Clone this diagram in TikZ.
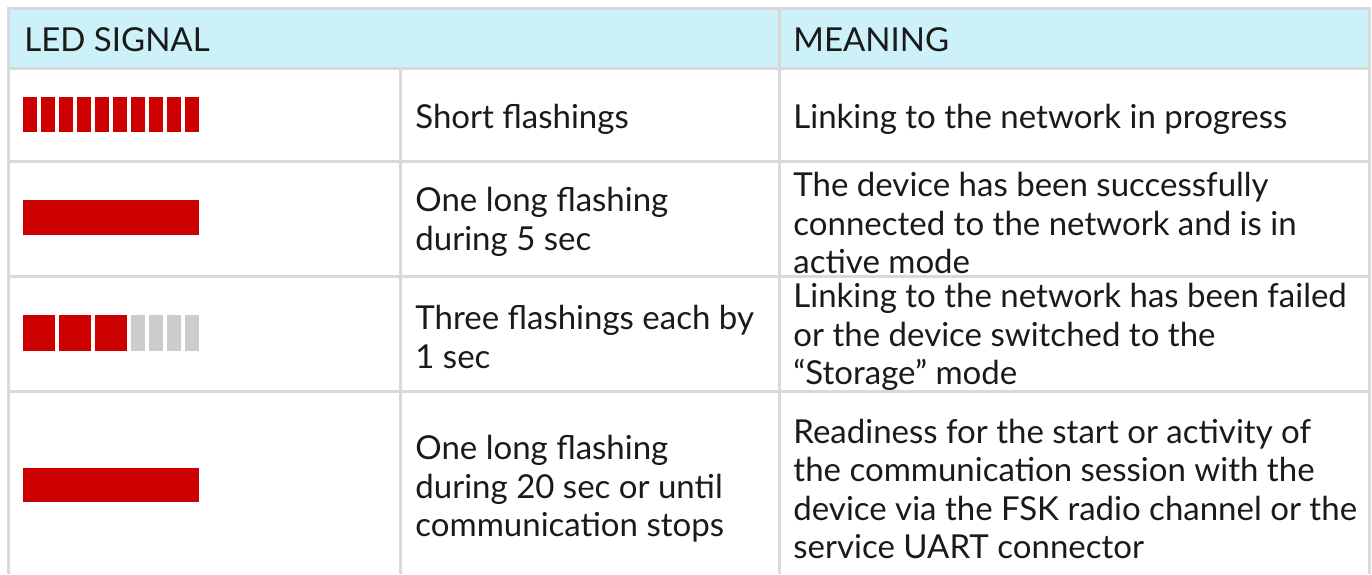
\documentclass[tikz,border=0pt]{standalone}
\usepackage{fontspec}
\setmainfont{Lato}
\definecolor{ledred}{HTML}{CC0000}
\definecolor{ledoff}{HTML}{CCCCCC}
\definecolor{headfill}{HTML}{CCF1F9}
\definecolor{gridline}{HTML}{D9D9D9}
\definecolor{ink}{HTML}{1A1A1A}
\begin{document}
\begin{tikzpicture}[x=0.5pt, y=-0.5pt,
    grid/.style = {draw=gridline, line width=1.5pt},
    cell/.style = {anchor=west, align=left, inner sep=0pt, text=ink, font=\fontsize{16.5}{19.25}\selectfont},
    on/.style = {fill=ledred}, off/.style = {fill=ledoff}]
    \useasboundingbox (0,0) rectangle (1372,574);
    \fill[headfill] (8,8) rectangle (1369,68);
    % table rules
    \draw[grid] (8,574) -- (8,8) -- (1369,8) -- (1369,574);
    \draw[grid] (8,68) -- (1369,68);
    \foreach \y in {161,276,391}
      \draw[grid] (8,\y) -- (1369,\y);
    \draw[grid] (400,68) -- (400,574);
    \draw[grid] (779,8) -- (779,574);
    % header
    \node[cell] (led) at (24,40) {LED SIGNAL};
    \node[cell] (mean) at (793,40) {MEANING};
    % row 1
    \foreach \i in {0,...,9}
      \fill[on] (23+18*\i,97) rectangle ++(13.5,35);
    \node[cell] (sig1) at (415,119) {Short flashings};
    \node[cell] (mean1) at (793,119) {Linking to the network in progress};
    % row 2
    \fill[on] (23,200) rectangle (199,235);
    \node[cell] (sig2) at (415,222) {One long flashing\\during 5 sec};
    \node[cell] (mean2) at (793,223) {The device has been successfully\\connected to the network and is in\\active mode};
    % row 3
    \foreach \i in {0,1,2}
      \fill[on] (23+36*\i,315) rectangle ++(32,36);
    \foreach \i in {0,...,3}
      \fill[off] (131+18*\i,315) rectangle ++(14,36);
    \node[cell] (sig3) at (415,337) {Three flashings each by\\1 sec};
    \node[cell] (mean3) at (793,337) {Linking to the network has been failed\\or the device switched to the\\“Storage” mode};
    % row 4
    \fill[on] (23,468) rectangle (199,502);
    \node[cell] (sig4) at (415,489) {One long flashing\\during 20 sec or until\\communication stops};
    \node[cell] (mean4) at (793,489) {Readiness for the start or activity of\\the communication session with the\\device via the FSK radio channel or the\\service UART connector};
\end{tikzpicture}
\end{document}
